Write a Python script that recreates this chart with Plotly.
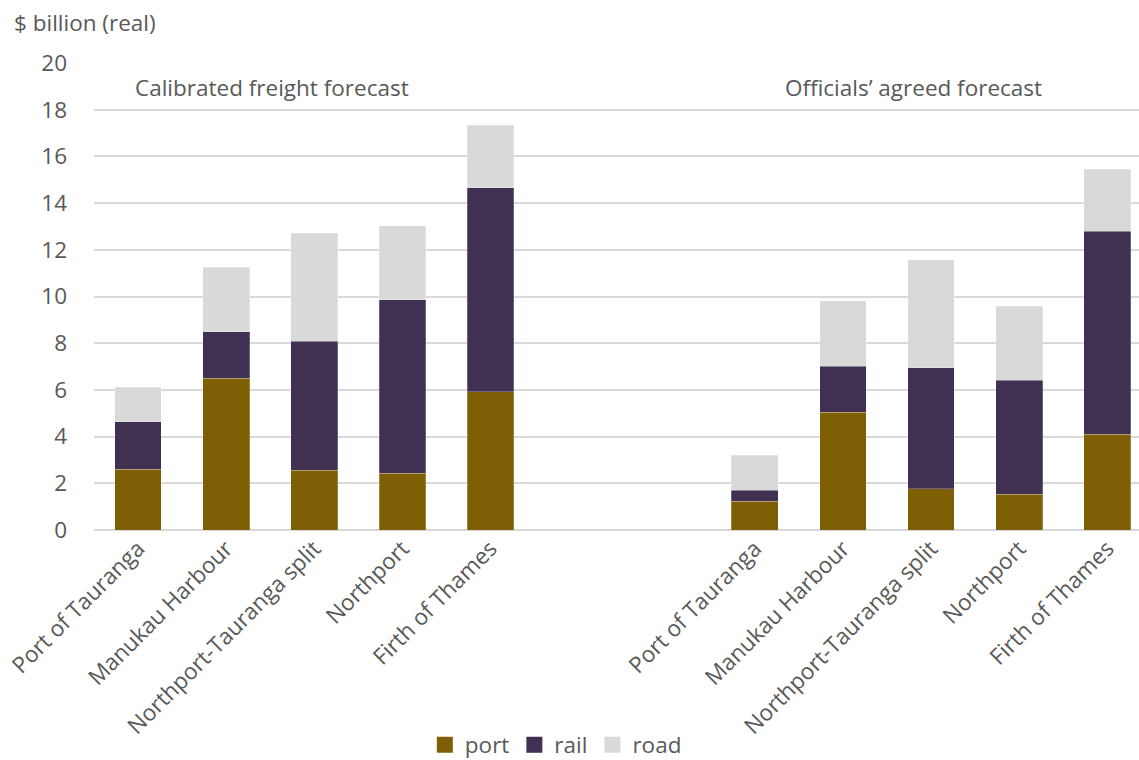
import plotly.graph_objects as go

categories = ["Port of Tauranga", "Manukau Harbour", "Northport-Tauranga split", "Northport", "Firth of Thames"]
group_titles = ["Calibrated freight forecast", "Officials\u2019 agreed forecast"]

calib_port = [2.60, 6.50, 2.56, 2.43, 5.92]
calib_rail = [2.03, 1.98, 5.53, 7.43, 8.73]
calib_road = [1.48, 2.77, 4.61, 3.16, 2.68]

offic_port = [1.24, 5.04, 1.76, 1.54, 4.10]
offic_rail = [0.47, 1.98, 5.18, 4.88, 8.69]
offic_road = [1.50, 2.79, 4.64, 3.16, 2.67]

y_ticks = [0, 2, 4, 6, 8, 10, 12, 14, 16, 18, 20]

# positions: group 1 at slots 0..4, gap of two slots, group 2 at 7..11
x1 = list(range(len(categories)))
x2 = [i + len(categories) + 2 for i in range(len(categories))]
xs = x1 + x2

port = calib_port + offic_port
rail = calib_rail + offic_rail
road = calib_road + offic_road

FONT = "Open Sans, Noto Sans, sans-serif"
TXT = "#595959"
FS = 22.5

fig = go.Figure()
series = [("port", port, "#7f5f06"), ("rail", rail, "#403152"), ("road", road, "#d9d9d9")]
for name, vals, col in series:
    fig.add_trace(go.Bar(x=xs, y=vals, name=name, width=0.53, showlegend=False,
                         marker=dict(color=col, line=dict(color="rgba(255,255,255,0.4)", width=0.6))))
# legend entries with larger square swatches
for name, vals, col in series:
    fig.add_trace(go.Scatter(x=[None], y=[None], mode="markers", name=name,
                             marker=dict(symbol="square", size=17, color=col)))

fig.update_layout(
    barmode="stack",
    width=1139, height=760,
    margin=dict(l=94, r=0, t=63, b=230, autoexpand=False),
    paper_bgcolor="white", plot_bgcolor="white",
    font=dict(family=FONT, size=FS, color=TXT),
    showlegend=True,
    legend=dict(orientation="h", x=0.488, xanchor="center", xref="container",
                y=(760 - 745) / 760, yanchor="middle", yref="container",
                font=dict(size=FS, color=TXT), traceorder="normal", itemwidth=30,
                tracegroupgap=0),
    xaxis=dict(tickmode="array", tickvals=xs, ticktext=categories + categories,
               tickangle=-45, range=[-0.5, 11.36], showgrid=False, zeroline=False,
               showline=False, ticks="", automargin=False, tickfont=dict(size=FS, color=TXT)),
    yaxis=dict(range=[0, 20], tickvals=y_ticks, showgrid=True, gridcolor="#d9d9d9",
               gridwidth=2, zeroline=True, zerolinecolor="#d9d9d9", zerolinewidth=2,
               ticks="", automargin=False, ticklabelstandoff=26, tickfont=dict(size=FS, color=TXT)),
)

fig.add_annotation(text="$ billion (real)", x=-82/1045, y=1 + (63-22)/467, xref="paper", yref="paper",
                   showarrow=False, xanchor="left", yanchor="middle", font=dict(size=FS, color=TXT))
fig.add_annotation(text=group_titles[0], x=1.52, y=18.97, xref="x", yref="y", showarrow=False,
                   xanchor="center", yanchor="middle", font=dict(size=FS, color=TXT))
fig.add_annotation(text=group_titles[1], x=8.8, y=18.97, xref="x", yref="y", showarrow=False,
                   xanchor="center", yanchor="middle", font=dict(size=FS, color=TXT))

fig.write_html("out.html")
